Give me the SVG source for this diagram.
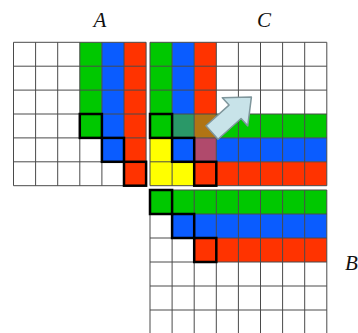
<svg xmlns="http://www.w3.org/2000/svg" width="358" height="333" viewBox="0 0 358 333">
<style>
.g{fill:#00c800}.b{fill:#0a5cff}.r{fill:#ff3300}.y{fill:#ffff00}
.grid{fill:none;stroke:#4a4a4a;stroke-width:1}
.bold{fill:none;stroke:#000;stroke-width:2.5}
.lbl{font-family:"Liberation Serif",serif;font-style:italic;font-size:21px;fill:#111}
</style>
<rect width="358" height="333" fill="#fff"/>
<g id="matrixA">
<rect class="g" x="79.8" y="42.3" width="22.1" height="95.6"/>
<rect class="b" x="101.9" y="42.3" width="22.1" height="119.5"/>
<rect class="r" x="124" y="42.3" width="22.1" height="143.4"/>
<path class="grid" d="M13.5 42.3V185.7M35.6 42.3V185.7M57.7 42.3V185.7M79.8 42.3V185.7M101.9 42.3V185.7M124 42.3V185.7M146.1 42.3V185.7M13.5 42.3H146.1M13.5 66.2H146.1M13.5 90.1H146.1M13.5 114H146.1M13.5 137.9H146.1M13.5 161.8H146.1M13.5 185.7H146.1"/>
<rect class="bold" x="79.8" y="114" width="22.1" height="23.9"/>
<rect class="bold" x="101.9" y="137.9" width="22.1" height="23.9"/>
<rect class="bold" x="124" y="161.8" width="22.1" height="23.9"/>
<text class="lbl" x="100" y="27" text-anchor="middle">A</text>
</g>
<g id="matrixC">
<rect class="g" x="150" y="42.3" width="22.1" height="95.6"/>
<rect class="y" x="150" y="137.9" width="22.1" height="47.8"/>
<rect class="b" x="172.1" y="42.3" width="22.1" height="71.7"/>
<rect fill="#2a9868" x="172.1" y="114" width="22.1" height="23.9"/>
<rect class="b" x="172.1" y="137.9" width="22.1" height="23.9"/>
<rect class="y" x="172.1" y="161.8" width="22.1" height="23.9"/>
<rect class="r" x="194.2" y="42.3" width="22.1" height="71.7"/>
<rect fill="#b07414" x="194.2" y="114" width="22.1" height="23.9"/>
<rect fill="#b04a6c" x="194.2" y="137.9" width="22.1" height="23.9"/>
<rect class="r" x="194.2" y="161.8" width="22.1" height="23.9"/>
<rect class="g" x="216.3" y="114" width="110.5" height="23.9"/>
<rect class="b" x="216.3" y="137.9" width="110.5" height="23.9"/>
<rect class="r" x="216.3" y="161.8" width="110.5" height="23.9"/>
<path class="grid" d="M150 42.3V185.7M172.1 42.3V185.7M194.2 42.3V185.7M216.3 42.3V185.7M238.4 42.3V185.7M260.5 42.3V185.7M282.6 42.3V185.7M304.7 42.3V185.7M326.8 42.3V185.7M150 42.3H326.8M150 66.2H326.8M150 90.1H326.8M150 114H326.8M150 137.9H326.8M150 161.8H326.8M150 185.7H326.8"/>
<rect class="bold" x="150" y="114" width="22.1" height="23.9"/>
<rect class="bold" x="172.1" y="137.9" width="22.1" height="23.9"/>
<rect class="bold" x="194.2" y="161.8" width="22.1" height="23.9"/>
<text class="lbl" x="264" y="27" text-anchor="middle">C</text>
</g>
<g id="matrixB">
<rect class="g" x="150" y="190" width="176.8" height="24"/>
<rect class="b" x="172.1" y="214" width="154.7" height="24"/>
<rect class="r" x="194.2" y="238" width="132.6" height="24"/>
<path class="grid" d="M150 190V334M172.1 190V334M194.2 190V334M216.3 190V334M238.4 190V334M260.5 190V334M282.6 190V334M304.7 190V334M326.8 190V334M150 190H326.8M150 214H326.8M150 238H326.8M150 262H326.8M150 286H326.8M150 310H326.8"/>
<rect class="bold" x="150" y="190" width="22.1" height="24"/>
<rect class="bold" x="172.1" y="214" width="22.1" height="24"/>
<rect class="bold" x="194.2" y="238" width="22.1" height="24"/>
<text class="lbl" x="345" y="270">B</text>
</g>
<g id="connectors">
<path transform="translate(212 132.5) rotate(-42)" d="M0 -9H31V-19L53 0L31 19V9H0Z" fill="#c8e3e9" stroke="#7f969c" stroke-width="1.5" stroke-linejoin="round"/>
</g>
</svg>
